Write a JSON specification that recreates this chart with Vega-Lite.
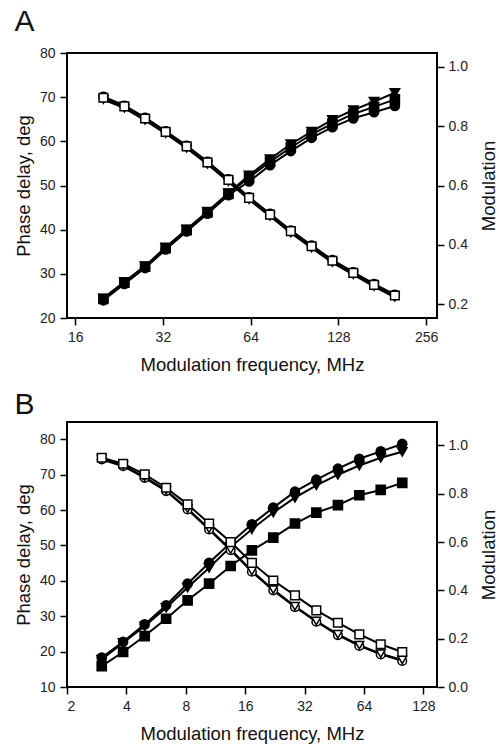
{
  "$schema": "https://vega.github.io/schema/vega-lite/v6.json",
  "padding": {"left": 13, "top": 6, "right": 2, "bottom": 0},
  "spacing": 14,
  "config": {
    "font": "Liberation Sans",
    "view": {"stroke": "black", "strokeWidth": 2},
    "axis": {"domain": false, "grid": false, "tickColor": "black", "tickWidth": 1.5, "tickSize": 7, "labelFontSize": 14, "labelColor": "#222", "labelPadding": 5, "titleFontSize": 18.5, "titleFontWeight": "normal", "titleColor": "#111"},
    "title": {"fontSize": 30, "fontWeight": "normal", "color": "#111", "anchor": "start", "frame": "bounds"}
  },
  "datasets": {
    "A": [
      {"f":20,"s":"s1","p":24.0,"m":0.900},{"f":23.6,"s":"s1","p":27.7,"m":0.870},{"f":27.8,"s":"s1","p":31.3,"m":0.829},{"f":32.7,"s":"s1","p":35.5,"m":0.784},{"f":38.6,"s":"s1","p":39.6,"m":0.735},{"f":45.5,"s":"s1","p":43.6,"m":0.681},{"f":53.7,"s":"s1","p":47.8,"m":0.622},{"f":63.2,"s":"s1","p":50.9,"m":0.561},{"f":74.6,"s":"s1","p":54.6,"m":0.505},{"f":87.9,"s":"s1","p":57.8,"m":0.449},{"f":103.6,"s":"s1","p":60.8,"m":0.398},{"f":122.1,"s":"s1","p":63.2,"m":0.349},{"f":144,"s":"s1","p":65.2,"m":0.308},{"f":169.7,"s":"s1","p":66.6,"m":0.268},{"f":200,"s":"s1","p":68.0,"m":0.232},
      {"f":20,"s":"s2","p":24.5,"m":0.890},{"f":23.6,"s":"s2","p":28.2,"m":0.861},{"f":27.8,"s":"s2","p":31.8,"m":0.820},{"f":32.7,"s":"s2","p":36.0,"m":0.775},{"f":38.6,"s":"s2","p":40.1,"m":0.726},{"f":45.5,"s":"s2","p":44.1,"m":0.672},{"f":53.7,"s":"s2","p":48.3,"m":0.613},{"f":63.2,"s":"s2","p":52.3,"m":0.552},{"f":74.6,"s":"s2","p":56.0,"m":0.496},{"f":87.9,"s":"s2","p":59.4,"m":0.440},{"f":103.6,"s":"s2","p":62.2,"m":0.389},{"f":122.1,"s":"s2","p":64.9,"m":0.340},{"f":144,"s":"s2","p":67.1,"m":0.299},{"f":169.7,"s":"s2","p":69.0,"m":0.259},{"f":200,"s":"s2","p":71.0,"m":0.223},
      {"f":20,"s":"s3","p":24.3,"m":0.896},{"f":23.6,"s":"s3","p":28.0,"m":0.867},{"f":27.8,"s":"s3","p":31.6,"m":0.826},{"f":32.7,"s":"s3","p":35.8,"m":0.781},{"f":38.6,"s":"s3","p":39.9,"m":0.732},{"f":45.5,"s":"s3","p":43.9,"m":0.678},{"f":53.7,"s":"s3","p":48.1,"m":0.619},{"f":63.2,"s":"s3","p":51.8,"m":0.558},{"f":74.6,"s":"s3","p":55.4,"m":0.502},{"f":87.9,"s":"s3","p":58.6,"m":0.446},{"f":103.6,"s":"s3","p":61.6,"m":0.395},{"f":122.1,"s":"s3","p":64.0,"m":0.346},{"f":144,"s":"s3","p":66.2,"m":0.305},{"f":169.7,"s":"s3","p":67.8,"m":0.265},{"f":200,"s":"s3","p":69.5,"m":0.229}
    ],
    "B": [
      {"f":3,"s":"s1","p":18.3,"m":0.942},{"f":3.85,"s":"s1","p":22.8,"m":0.914},{"f":4.95,"s":"s1","p":27.7,"m":0.866},{"f":6.36,"s":"s1","p":33.1,"m":0.811},{"f":8.17,"s":"s1","p":39.2,"m":0.735},{"f":10.5,"s":"s1","p":45.1,"m":0.652},{"f":13.5,"s":"s1","p":50.8,"m":0.566},{"f":17.3,"s":"s1","p":56.0,"m":0.477},{"f":22.2,"s":"s1","p":60.7,"m":0.400},{"f":28.6,"s":"s1","p":65.2,"m":0.331},{"f":36.7,"s":"s1","p":68.6,"m":0.270},{"f":47.2,"s":"s1","p":71.7,"m":0.215},{"f":60.6,"s":"s1","p":74.5,"m":0.170},{"f":77.8,"s":"s1","p":76.6,"m":0.135},{"f":100,"s":"s1","p":78.7,"m":0.108},
      {"f":3,"s":"s2","p":17.8,"m":0.945},{"f":3.85,"s":"s2","p":22.5,"m":0.917},{"f":4.95,"s":"s2","p":27.2,"m":0.869},{"f":6.36,"s":"s2","p":32.4,"m":0.814},{"f":8.17,"s":"s2","p":38.1,"m":0.738},{"f":10.5,"s":"s2","p":43.7,"m":0.655},{"f":13.5,"s":"s2","p":49.6,"m":0.569},{"f":17.3,"s":"s2","p":54.6,"m":0.480},{"f":22.2,"s":"s2","p":59.3,"m":0.403},{"f":28.6,"s":"s2","p":63.5,"m":0.334},{"f":36.7,"s":"s2","p":67.0,"m":0.273},{"f":47.2,"s":"s2","p":70.0,"m":0.218},{"f":60.6,"s":"s2","p":72.6,"m":0.173},{"f":77.8,"s":"s2","p":74.8,"m":0.138},{"f":100,"s":"s2","p":76.5,"m":0.112},
      {"f":3,"s":"s3","p":15.9,"m":0.949},{"f":3.85,"s":"s3","p":19.9,"m":0.924},{"f":4.95,"s":"s3","p":24.4,"m":0.880},{"f":6.36,"s":"s3","p":29.3,"m":0.825},{"f":8.17,"s":"s3","p":34.5,"m":0.756},{"f":10.5,"s":"s3","p":39.2,"m":0.677},{"f":13.5,"s":"s3","p":44.2,"m":0.600},{"f":17.3,"s":"s3","p":48.6,"m":0.514},{"f":22.2,"s":"s3","p":52.2,"m":0.441},{"f":28.6,"s":"s3","p":56.2,"m":0.379},{"f":36.7,"s":"s3","p":59.3,"m":0.317},{"f":47.2,"s":"s3","p":61.4,"m":0.266},{"f":60.6,"s":"s3","p":64.2,"m":0.218},{"f":77.8,"s":"s3","p":65.7,"m":0.177},{"f":100,"s":"s3","p":67.7,"m":0.145}
    ]
  },
  "vconcat": [
    {
      "title": {"text": "A", "offset": 9},
      "data": {"name": "A"},
      "width": 370,
      "height": 265,
      "encoding": {
        "x": {"field": "f", "type": "quantitative", "scale": {"type": "log", "base": 2, "domain": [15, 279], "nice": false}, "axis": {"values": [16, 32, 64, 128, 256], "format": "d", "title": "Modulation frequency, MHz", "titlePadding": 11}}
      },
      "layer": [
        {
          "encoding": {"y": {"field": "p", "type": "quantitative", "scale": {"domain": [20, 80], "nice": false, "zero": false}, "axis": {"orient": "left", "values": [20, 30, 40, 50, 60, 70, 80], "title": "Phase delay, deg", "titlePadding": 6}}},
          "layer": [
            {"mark": {"type": "line", "color": "black", "strokeWidth": 2}, "encoding": {"detail": {"field": "s"}}},
            {"mark": {"type": "point", "filled": true, "fill": "black", "stroke": "black", "opacity": 1, "size": 75}, "encoding": {"shape": {"field": "s", "type": "nominal", "scale": {"domain": ["s1", "s2", "s3"], "range": ["circle", "triangle-down", "square"]}, "legend": null}}}
          ]
        },
        {
          "encoding": {"y": {"field": "m", "type": "quantitative", "scale": {"domain": [0.153, 1.047], "nice": false, "zero": false}, "axis": {"orient": "right", "values": [0.2, 0.4, 0.6, 0.8, 1.0], "format": ".1f", "labelPadding": 4, "title": "Modulation", "titleAngle": 270, "titleBaseline": "top", "titlePadding": 12}}},
          "layer": [
            {"mark": {"type": "line", "color": "black", "strokeWidth": 2}, "encoding": {"detail": {"field": "s"}}},
            {"mark": {"type": "point", "filled": true, "fill": "white", "stroke": "black", "strokeWidth": 1.5, "opacity": 1, "size": 75}, "encoding": {"shape": {"field": "s", "type": "nominal", "scale": {"domain": ["s1", "s2", "s3"], "range": ["circle", "triangle-down", "square"]}, "legend": null}}}
          ]
        }
      ],
      "resolve": {"scale": {"y": "independent"}}
    },
    {
      "title": {"text": "B", "offset": 2},
      "data": {"name": "B"},
      "width": 370,
      "height": 265,
      "encoding": {
        "x": {"field": "f", "type": "quantitative", "scale": {"type": "log", "base": 2, "domain": [2, 150], "nice": false}, "axis": {"values": [2, 4, 8, 16, 32, 64, 128], "format": "d", "title": "Modulation frequency, MHz", "titlePadding": 11}}
      },
      "layer": [
        {
          "encoding": {"y": {"field": "p", "type": "quantitative", "scale": {"domain": [10, 84.9], "nice": false, "zero": false}, "axis": {"orient": "left", "values": [10, 20, 30, 40, 50, 60, 70, 80], "title": "Phase delay, deg", "titlePadding": 6}}},
          "layer": [
            {"mark": {"type": "line", "color": "black", "strokeWidth": 2}, "encoding": {"detail": {"field": "s"}}},
            {"mark": {"type": "point", "filled": true, "fill": "black", "stroke": "black", "opacity": 1, "size": 75}, "encoding": {"shape": {"field": "s", "type": "nominal", "scale": {"domain": ["s1", "s2", "s3"], "range": ["circle", "triangle-down", "square"]}, "legend": null}}}
          ]
        },
        {
          "encoding": {"y": {"field": "m", "type": "quantitative", "scale": {"domain": [0, 1.097], "nice": false, "zero": false}, "axis": {"orient": "right", "values": [0, 0.2, 0.4, 0.6, 0.8, 1.0], "format": ".1f", "labelPadding": 4, "title": "Modulation", "titleAngle": 270, "titleBaseline": "top", "titlePadding": 12}}},
          "layer": [
            {"mark": {"type": "line", "color": "black", "strokeWidth": 2}, "encoding": {"detail": {"field": "s"}}},
            {"mark": {"type": "point", "filled": true, "fill": "white", "stroke": "black", "strokeWidth": 1.5, "opacity": 1, "size": 75}, "encoding": {"shape": {"field": "s", "type": "nominal", "scale": {"domain": ["s1", "s2", "s3"], "range": ["circle", "triangle-down", "square"]}, "legend": null}}}
          ]
        }
      ],
      "resolve": {"scale": {"y": "independent"}}
    }
  ]
}
